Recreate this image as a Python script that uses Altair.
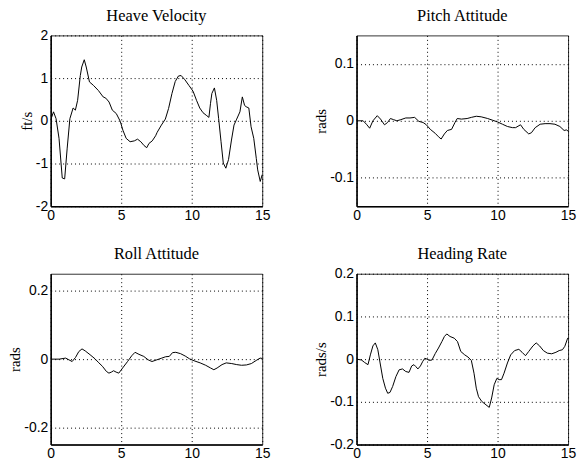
import altair as alt
import pandas as pd

# ---------------- data ----------------
heave_t = [0, 0.2, 0.38, 0.59, 0.82, 0.99, 1.17, 1.36, 1.59, 1.75, 1.91, 2.1, 2.2, 2.38,
           2.52, 2.75, 3.03, 3.38, 3.72, 3.91, 4.14, 4.37, 4.65, 4.93, 5.12, 5.35, 5.63,
           5.93, 6.16, 6.39, 6.62, 6.81, 6.97, 7.2, 7.44, 7.55, 7.85, 8.13, 8.36, 8.6,
           8.83, 9.06, 9.25, 9.52, 9.8, 10.1, 10.34, 10.57, 10.8, 11.03, 11.22, 11.33,
           11.43, 11.61, 11.77, 11.91, 12.08, 12.24, 12.42, 12.61, 12.82, 13.0, 13.19,
           13.42, 13.59, 13.75, 13.86, 14.05, 14.21, 14.4, 14.58, 14.68, 14.86, 15.0]
heave_v = [0.02, 0.21, 0.05, -0.41, -1.34, -1.36, -0.64, 0.05, 0.30, 0.25, 0.48, 1.06, 1.26,
           1.43, 1.26, 0.91, 0.83, 0.71, 0.56, 0.53, 0.44, 0.25, 0.17, -0.01, -0.22, -0.41,
           -0.49, -0.47, -0.43, -0.49, -0.58, -0.63, -0.53, -0.47, -0.35, -0.27, -0.10,
           0.04, 0.29, 0.64, 0.92, 1.05, 1.06, 0.96, 0.83, 0.69, 0.48, 0.30, 0.19, 0.13,
           0.08, 0.40, 0.64, 0.77, 0.48, 0.05, -0.49, -0.99, -1.11, -0.91, -0.45, -0.10,
           0.04, 0.21, 0.56, 0.36, 0.33, 0.30, -0.14, -0.41, -0.88, -1.15, -1.42, -1.26]

pitch_t = [0, 0.47, 0.7, 0.93, 1.16, 1.47, 1.7, 1.98, 2.2, 2.4, 2.63, 2.86, 3.14, 3.49,
           3.79, 4.12, 4.42, 4.72, 4.95, 5.23, 5.58, 5.81, 6.0, 6.23, 6.44, 6.74, 6.98,
           7.14, 7.44, 7.84, 8.14, 8.49, 8.84, 9.3, 9.65, 10.0, 10.35, 10.7, 11.05, 11.28,
           11.63, 11.86, 12.21, 12.4, 12.67, 13.02, 13.37, 13.72, 14.07, 14.42, 14.72,
           14.88, 15.0]
pitch_v = [0, 0, -0.006, -0.013, 0, 0.009, 0.003, -0.007, -0.003, 0.004, 0.002, 0, 0.002,
           0.005, 0.005, 0.006, -0.001, -0.003, -0.007, -0.015, -0.022, -0.028, -0.032,
           -0.023, -0.017, -0.015, -0.003, 0.004, 0.003, 0.004, 0.006, 0.008, 0.007, 0.004,
           0.001, -0.002, -0.006, -0.010, -0.012, -0.012, -0.007, -0.015, -0.023, -0.021,
           -0.012, -0.006, -0.005, -0.005, -0.006, -0.010, -0.017, -0.016, -0.018]

roll_t = [0, 0.6, 1.06, 1.29, 1.52, 1.76, 1.99, 2.22, 2.45, 2.79, 3.14, 3.37, 3.67, 3.95,
          4.13, 4.3, 4.46, 4.64, 4.83, 5.1, 5.45, 5.75, 5.98, 6.26, 6.6, 6.91, 7.18, 7.53,
          7.88, 8.15, 8.41, 8.64, 8.87, 9.21, 9.54, 9.84, 10.18, 10.6, 10.99, 11.34, 11.57,
          11.8, 12.15, 12.45, 12.84, 13.19, 13.53, 13.88, 14.23, 14.57, 14.85, 15.0]
roll_v = [0, 0, 0.003, -0.002, -0.007, 0.005, 0.022, 0.030, 0.024, 0.013, 0.001, -0.009,
          -0.021, -0.036, -0.041, -0.038, -0.034, -0.038, -0.041, -0.026, -0.007, 0.010,
          0.020, 0.014, 0.008, -0.002, -0.007, -0.002, 0.003, 0.007, 0.008, 0.019, 0.020,
          0.016, 0.009, 0.001, -0.005, -0.011, -0.018, -0.026, -0.031, -0.026, -0.016,
          -0.011, -0.013, -0.016, -0.018, -0.017, -0.013, -0.004, 0.003, 0.002]

head_t = [0, 0.35, 0.58, 0.81, 0.98, 1.16, 1.33, 1.51, 1.67, 1.86, 2.05, 2.21, 2.37, 2.56,
          2.79, 3.02, 3.26, 3.49, 3.72, 3.91, 4.07, 4.19, 4.35, 4.53, 4.7, 4.84, 5.0, 5.16,
          5.35, 5.58, 5.81, 6.05, 6.23, 6.4, 6.63, 6.93, 7.16, 7.39, 7.67, 7.9, 8.14, 8.33,
          8.49, 8.65, 8.88, 9.18, 9.41, 9.58, 9.76, 9.95, 10.11, 10.28, 10.46, 10.7, 10.93,
          11.21, 11.51, 11.74, 11.98, 12.21, 12.51, 12.74, 12.98, 13.25, 13.53, 13.84,
          14.14, 14.37, 14.6, 14.77, 14.95, 15.0]
head_v = [0, -0.002, -0.008, -0.013, 0.010, 0.031, 0.038, 0.022, -0.009, -0.045, -0.068,
          -0.080, -0.078, -0.064, -0.041, -0.025, -0.023, -0.029, -0.031, -0.016, -0.013,
          -0.017, -0.023, -0.016, -0.005, 0.002, 0, -0.003, -0.002, 0.013, 0.026, 0.041,
          0.053, 0.059, 0.053, 0.049, 0.041, 0.018, 0.010, 0.005, -0.003, -0.033, -0.068,
          -0.088, -0.099, -0.107, -0.113, -0.091, -0.060, -0.045, -0.048, -0.048, -0.033,
          -0.009, 0.010, 0.020, 0.023, 0.016, 0.008, 0.018, 0.031, 0.038, 0.031, 0.020,
          0.014, 0.0125, 0.016, 0.020, 0.022, 0.030, 0.047, 0.050]

titles = ["Heave Velocity", "Pitch Attitude", "Roll Attitude", "Heading Rate"]
ytitles = ["ft/s", "rads", "rads", "rads/s"]
ydomains = [[-2, 2], [-0.15, 0.15], [-0.25, 0.25], [-0.2, 0.2]]
yticks = [[-2, -1, 0, 1, 2], [-0.1, 0, 0.1], [-0.2, 0, 0.2], [-0.2, -0.1, 0, 0.1, 0.2]]
xticks = [0, 5, 10, 15]

series = [(heave_t, heave_v), (pitch_t, pitch_v), (roll_t, roll_v), (head_t, head_v)]
# panels without a tick label at the top edge get their title lifted to match
title_dy = [0, -7, -7, 0]

SANS = "Liberation Sans"
SERIF = "Liberation Serif"


def panel(i):
    t, v = series[i]
    df = pd.DataFrame({"t": t, "v": v})
    return (
        alt.Chart(df, title=alt.Title(titles[i], frame="group", dy=title_dy[i]))
        .mark_line(color="black", strokeWidth=1, clip=True)
        .encode(
            x=alt.X("t:Q",
                    scale=alt.Scale(domain=[0, 15], nice=False),
                    axis=alt.Axis(values=xticks, title=None, labelPadding=2)),
            y=alt.Y("v:Q",
                    scale=alt.Scale(domain=ydomains[i], nice=False, zero=False),
                    axis=alt.Axis(values=yticks[i], title=ytitles[i])),
        )
        .properties(width=213, height=172)
    )


chart = (
    alt.concat(*[panel(i) for i in range(4)], columns=2,
               spacing={"row": 23, "column": 42})
    .properties(padding={"left": -1, "top": -2, "right": 0, "bottom": 0})
    .configure_view(stroke="#333", strokeWidth=1)
    .configure_axis(
        labelFont=SANS, labelFontSize=14, labelColor="black",
        labelExpr="toString(datum.value)",
        labelFlush=False, labelOverlap=False, labelPadding=3,
        ticks=False,
        domainColor="black", domainWidth=1.5,
        grid=True, gridColor="black", gridDash=[1, 3], gridWidth=1, gridOpacity=1,
        titleFont=SERIF, titleFontSize=15, titleFontWeight="normal",
        titleColor="black", titlePadding=1,
    )
    .configure_title(font=SERIF, fontSize=16.5, fontWeight="normal",
                     color="black", anchor="middle", offset=0)
)

chart.save("out.html", embed_options={"renderer": "svg", "actions": False})
